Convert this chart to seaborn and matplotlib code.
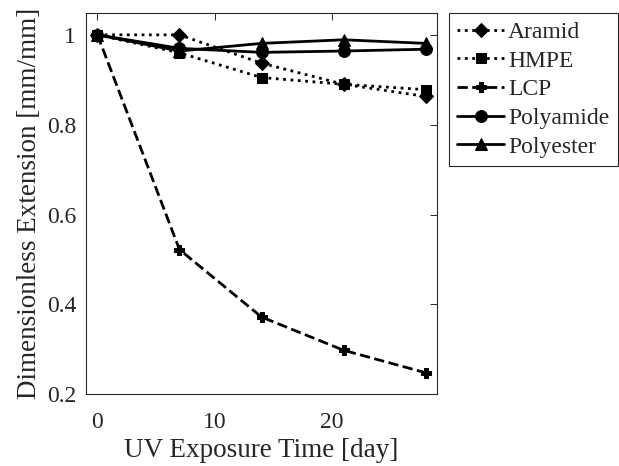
import matplotlib
matplotlib.use("Agg")
import matplotlib.pyplot as plt
import seaborn as sns
import pandas as pd

days = [0, 7, 14, 21, 28]
aramid = [1.0, 1.0, 0.937, 0.890, 0.863]
hmpe = [1.0, 0.960, 0.905, 0.890, 0.878]
lcp = [1.0, 0.522, 0.372, 0.298, 0.248]
polyamide = [1.0, 0.970, 0.961, 0.964, 0.968]
polyester = [1.0, 0.964, 0.981, 0.989, 0.981]

series_names = ["Aramid", "HMPE", "LCP", "Polyamide", "Polyester"]
series_values = [aramid, hmpe, lcp, polyamide, polyester]
linestyles = [":", ":", "--", "-", "-"]
markers = ["D", "s", "P", "o", "^"]
msizes = [7.5, 6.5, 7, 8.5, 9]

x_ticks = [0, 10, 20]
y_ticks = [0.2, 0.4, 0.6, 0.8, 1.0]
y_ticklabels = ["0.2", "0.4", "0.6", "0.8", "1"]

sns.set_theme(style="white")
plt.rcParams["font.family"] = ["Liberation Serif", "DejaVu Serif"]

fig = plt.figure(figsize=(6.19, 4.66), dpi=100)
ax = fig.add_axes([0.1385, 0.1539, 0.568, 0.8176])

for name, vals, ls, mk, ms in zip(series_names, series_values, linestyles, markers, msizes):
    df = pd.DataFrame({"day": days, "val": vals})
    sns.lineplot(data=df, x="day", y="val", ax=ax, color="black", linestyle=ls,
                 marker=mk, markersize=ms, linewidth=2, label=name,
                 markeredgecolor="black", markerfacecolor="black")

ax.set_xlim(-1, 29)
ax.set_ylim(0.2, 1.048)
ax.set_xticks(x_ticks)
ax.set_yticks(y_ticks)
ax.set_yticklabels(y_ticklabels)
ax.set_xlabel("UV Exposure Time [day]", fontsize=19.5, labelpad=3)
ax.set_ylabel("Dimensionless Extension [mm/mm]", fontsize=19.5, labelpad=3)
ax.tick_params(axis="both", labelsize=17, direction="in", top=True, right=True,
               length=5, width=0.7, color="#262626", labelcolor="#262626")
ax.tick_params(axis="x", pad=13)
ax.tick_params(axis="y", pad=7)
for sp in ax.spines.values():
    sp.set_color("#262626")
    sp.set_linewidth(0.8)

leg = ax.legend(loc="upper left", bbox_to_anchor=(1.033, 1.0), fontsize=17,
                frameon=True, fancybox=False, edgecolor="#262626", framealpha=1,
                handlelength=2.0, handletextpad=0.16, borderpad=0.35,
                labelspacing=0.3, borderaxespad=0.0)
leg.get_frame().set_linewidth(0.8)

fig.savefig("out.png", dpi=100)
